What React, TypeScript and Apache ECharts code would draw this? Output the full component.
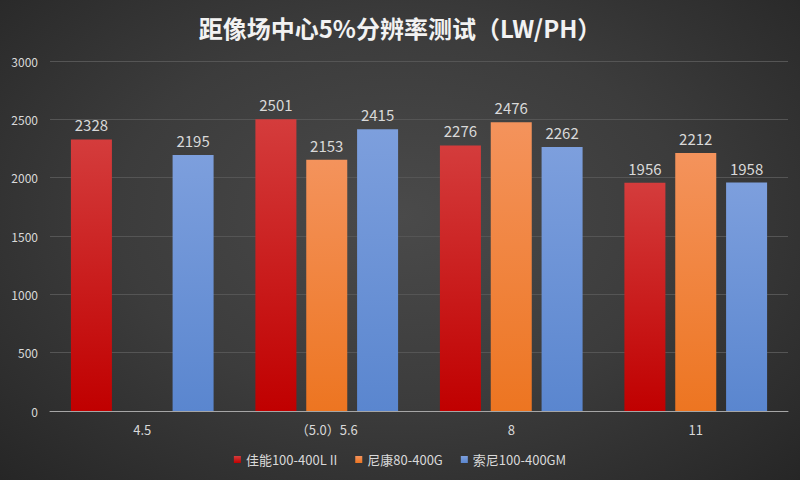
import React, { useEffect, useRef } from "react";
import * as echarts from "echarts";

const categories = ["4.5", "（5.0）5.6", "8", "11"];
const canonValues = [2328, 2501, 2276, 1956];
const nikonValues: (number | null)[] = [null, 2153, 2476, 2212];
const sonyValues = [2195, 2415, 2262, 1958];
const seriesNames = ["佳能100-400L II", "尼康80-400G", "索尼100-400GM"];
const titleText = "距像场中心5%分辨率测试（LW/PH）";

const grad = (top: string, bottom: string) =>
  new echarts.graphic.LinearGradient(0, 0, 0, 1, [
    { offset: 0, color: top },
    { offset: 1, color: bottom },
  ]);

export default function App() {
  const ref = useRef<HTMLDivElement>(null);
  useEffect(() => {
    document.body.style.margin = "0";
    const chart = echarts.init(ref.current!, undefined, { renderer: "svg" });
    const font = "'Noto Sans CJK SC', 'Noto Sans', sans-serif";
    const label = {
      show: true,
      position: "top",
      color: "#d9d9d9",
      fontSize: 15,
      fontFamily: font,
      distance: 7,
    };
    chart.setOption({
      animation: false,
      backgroundColor: "transparent",
      title: {
        text: titleText,
        left: "center",
        top: 10,
        textStyle: {
          color: "#f2f2f2",
          fontSize: 24,
          fontWeight: "bold",
          fontFamily: "'Noto Sans CJK SC', sans-serif",
        },
      },
      legend: {
        bottom: 9,
        left: "center",
        icon: "rect",
        itemWidth: 7,
        itemHeight: 7,
        itemGap: 18,
        textStyle: { color: "#d9d9d9", fontSize: 13, fontFamily: font },
        data: seriesNames,
      },
      grid: { left: 50, right: 12, top: 61, bottom: 69 },
      xAxis: {
        type: "category",
        data: categories,
        axisLine: { lineStyle: { color: "#a6a6a6", width: 1 } },
        axisTick: { show: false },
        axisLabel: { color: "#d9d9d9", fontSize: 13, margin: 12, fontFamily: font },
      },
      yAxis: {
        type: "value",
        min: 0,
        max: 3000,
        interval: 500,
        axisLabel: {
          color: "#d9d9d9",
          fontSize: 12,
          margin: 12,
          fontFamily: font,
          formatter: (v: number) => String(v),
        },
        splitLine: { lineStyle: { color: "#555555", width: 1 } },
        axisLine: { show: false },
        axisTick: { show: false },
      },
      series: [
        {
          name: seriesNames[0],
          type: "bar",
          data: canonValues,
          barWidth: 41,
          barGap: "24%",
          itemStyle: { color: grad("#d43c3c", "#c00000") },
          label,
        },
        {
          name: seriesNames[1],
          type: "bar",
          data: nikonValues,
          barWidth: 41,
          barGap: "24%",
          itemStyle: { color: grad("#f4935c", "#ed7521") },
          label,
        },
        {
          name: seriesNames[2],
          type: "bar",
          data: sonyValues,
          barWidth: 41,
          barGap: "24%",
          itemStyle: { color: grad("#7d9fdd", "#5a86cf") },
          label,
        },
      ],
    });
    return () => chart.dispose();
  }, []);
  return (
    <div
      style={{
        width: 800,
        height: 480,
        background:
          "radial-gradient(ellipse at 50% 45%, #4a4a4a 0%, #3c3c3c 50%, #262626 100%)",
      }}
    >
      <div ref={ref} style={{ width: 800, height: 480 }} />
    </div>
  );
}
